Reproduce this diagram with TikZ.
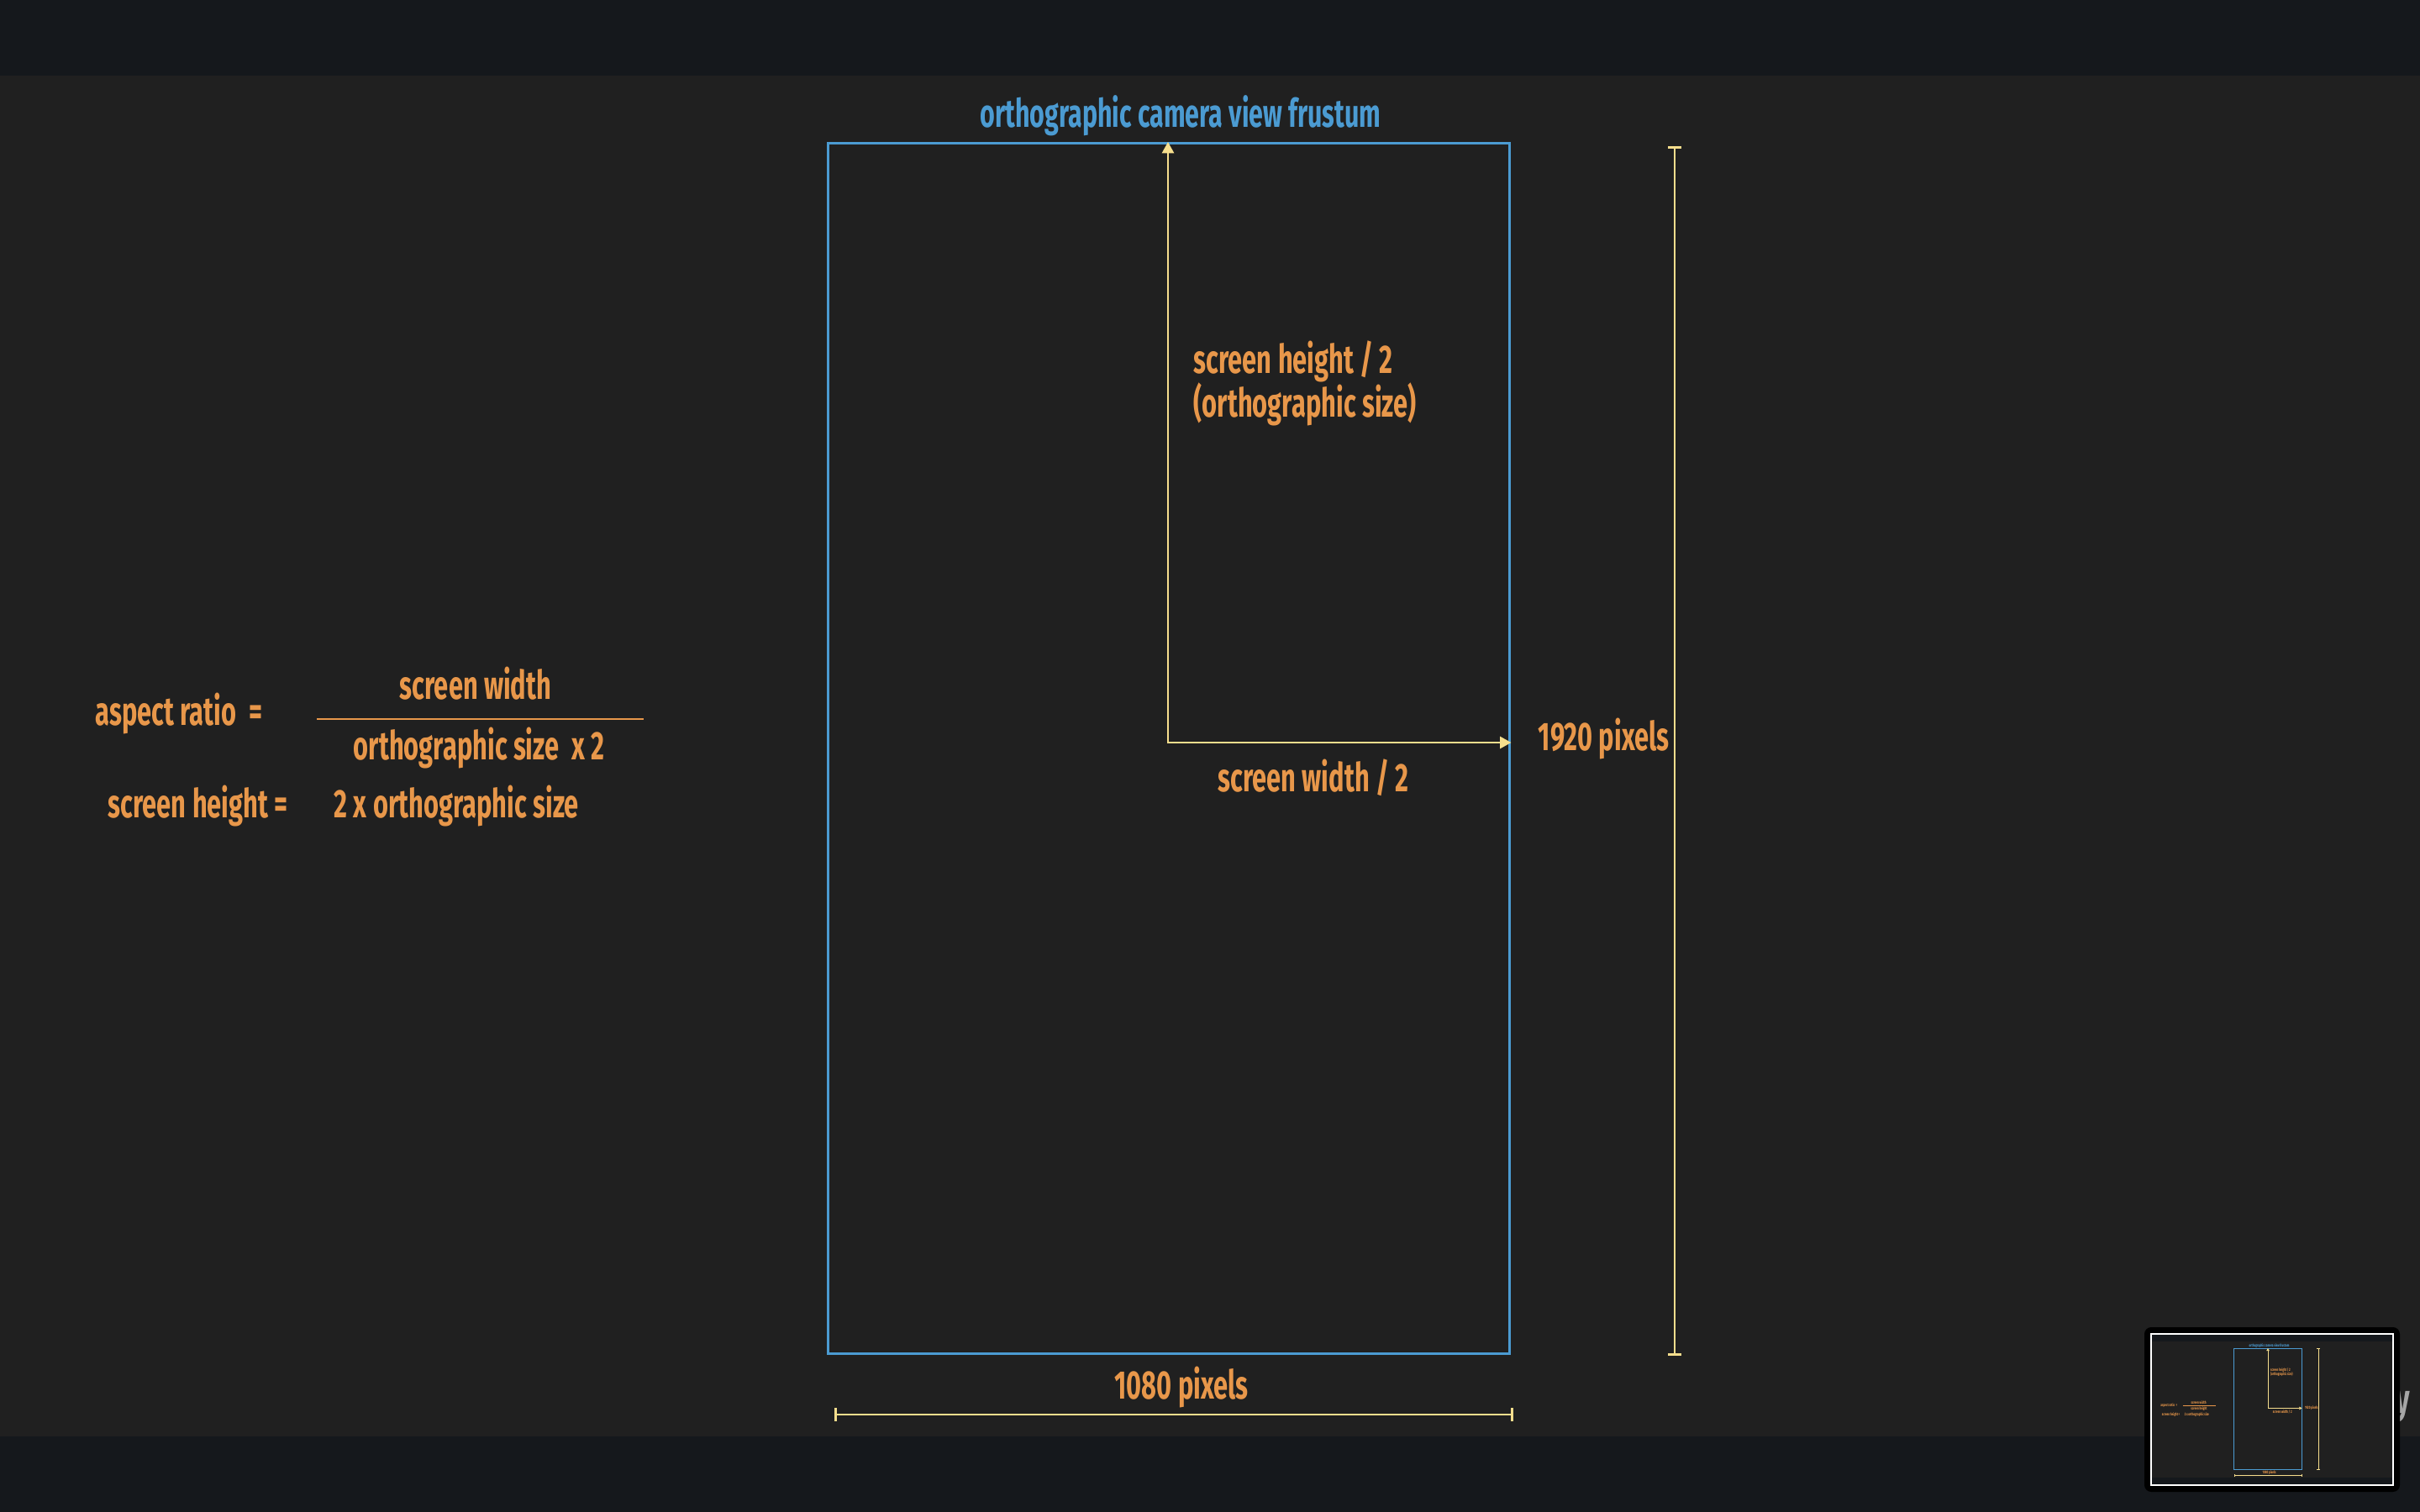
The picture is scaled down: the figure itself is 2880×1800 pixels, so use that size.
\documentclass[tikz,border=0pt]{standalone}
\usepackage{fontspec}
\setmainfont{Fira Sans}[FakeStretch=0.65]
\usetikzlibrary{arrows.meta}
\definecolor{bgmain}{HTML}{202020}
\definecolor{bgbar}{HTML}{15181C}
\definecolor{frblue}{HTML}{4B9BD2}
\definecolor{dimyel}{HTML}{F6DE8D}
\definecolor{txtor}{HTML}{E8974A}
\newcommand{\lws}{1}
\tikzset{
  frustbox/.style={draw=frblue, line width=\lws*0.85pt, minimum width=8.11cm, minimum height=14.4cm, inner sep=0pt, anchor=north west},
  yarrow/.style={draw=dimyel, line width=\lws*0.7pt, line join=miter, {Triangle[length=0pt 5.4, width=0pt 5.7]}-{Triangle[length=0pt 5.4, width=0pt 5.7]}},
  dimline/.style={draw=dimyel, line width=\lws*0.75pt, {Bar[width=0pt 5.7]}-{Bar[width=0pt 5.7]}},
  fracline/.style={draw=txtor, line width=\lws*0.8pt},
  lbl/.style={text=txtor, font=\bfseries\fontsize{13.5}{16}\selectfont, inner sep=0pt},
  ttl/.style={text=frblue, font=\bfseries\fontsize{13.3}{16}\selectfont, inner sep=0pt},
}
\newcommand{\camdiagram}[1]{%
  \fill[bgbar] (0,0) rectangle (2880,1800);
  \fill[bgmain] (0,90) rectangle (2880,1710);
  \node[frustbox] (frust) at (984,169) {};
  \node[ttl, anchor=base] (title) at (1405,152) {orthographic camera view frustum};
  \coordinate (corner) at (1390,884);
  \draw[yarrow] (corner |- frust.north) -- (corner) -- (corner -| frust.east);
  \node[lbl, anchor=base west] (sh) at (1420,445) {screen height / 2};
  \node[lbl, anchor=base west] (os) at (1420,497) {(orthographic size)};
  \node[lbl, anchor=base] (sw) at (1563,942) {screen width / 2};
  \node[lbl, anchor=base west] (hp) at (1830,893) {1920 pixels};
  \node[lbl, anchor=base] (wp) at (1406,1665) {1080 pixels};
  \coordinate (v1) at (1993,174);
  \coordinate (v2) at (1993,1614);
  \draw[dimline] (v1) -- (v2);
  \coordinate (h1) at (993,1684);
  \coordinate (h2) at (1801,1684);
  \draw[dimline] (h1) -- (h2);
  \node[lbl, anchor=base west] (ar) at (113,863) {aspect ratio\ \ =};
  \node[lbl, anchor=base] (num) at (566,832) {screen width};
  \node[lbl, anchor=base] (den) at (570,904) {#1};
  \coordinate (f1) at (377,856);
  \coordinate (f2) at (766,856);
  \draw[fracline] (f1) -- (f2);
  \node[lbl, anchor=base west] (shq) at (128,973) {screen height\ =};
  \node[lbl, anchor=base west] (two) at (397,973) {2 x orthographic size};
}
\begin{document}
\begin{tikzpicture}[x=0.01cm, y=-0.01cm]
  \useasboundingbox (0,0) rectangle (2880,1800);
  \camdiagram{orthographic size\ \ x 2}
  \node[text=gray!70, font=\bfseries\fontsize{14}{16}\selectfont, anchor=base west, inner sep=0pt] (ytail) at (2851,1682) {y};
  \fill[black, rounded corners=2.3pt] (2552,1580) rectangle (2856,1776);
  \begin{scope}[shift={(2560,1588)}, scale=0.1, transform shape, name prefix=m-]
    \renewcommand{\lws}{0.25}
    \camdiagram{screen height}
  \end{scope}
  \draw[white, line width=0.6pt] (2560,1588) rectangle (2848,1768);
\end{tikzpicture}
\end{document}
